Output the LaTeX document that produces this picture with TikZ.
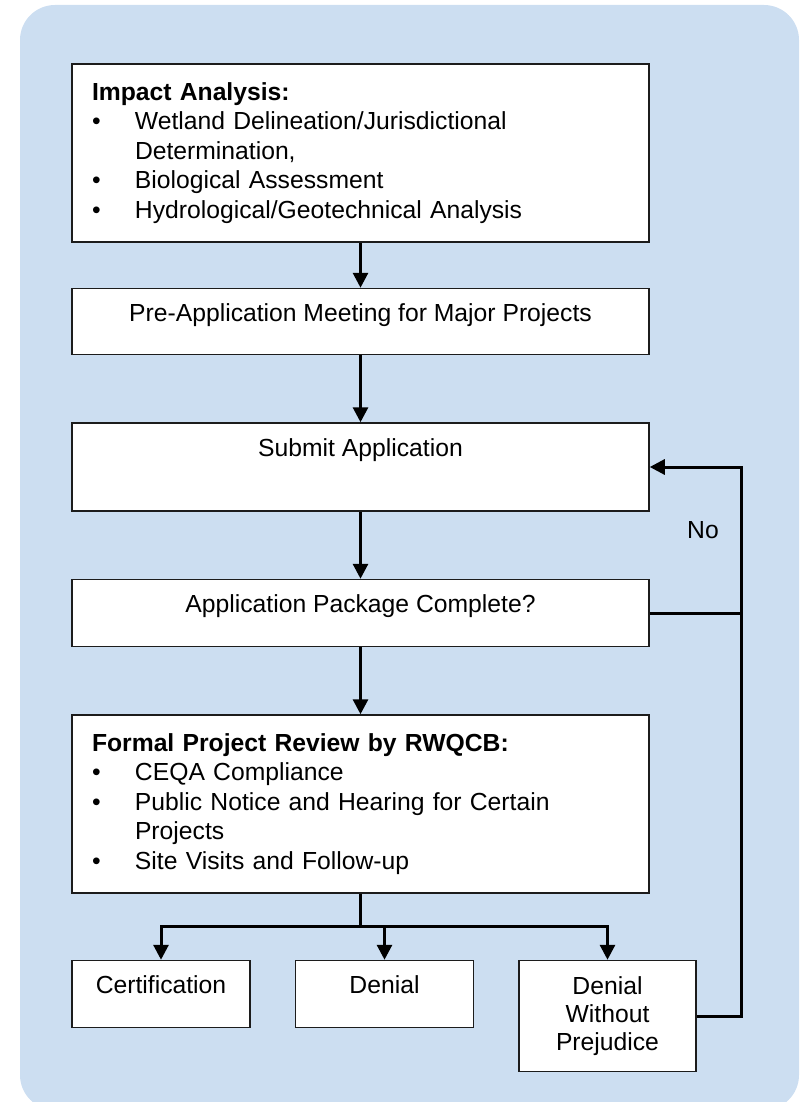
\documentclass[tikz,border=0pt]{standalone}
\usepackage{fontspec}
\setmainfont{Liberation Sans}
\usepackage{tikz}
\usetikzlibrary{
	positioning,
	arrows.meta
}

\definecolor{panelblue}{RGB}{204,222,241}
\definecolor{boxline}{RGB}{28,28,28}

\newcommand{\bul}{\makebox[43pt][l]{\textbullet}}
\newcommand{\cont}{\hspace*{43pt}}

\tikzset{
	box/.style={draw=boxline,line width=1.5pt,fill=white,inner sep=0pt,
		font=\fontsize{24.7}{29.6}\selectfont},
	oneline/.style={text height=33pt,text depth=#1},
	wide/.style={minimum width=577pt},
	narrow/.style={minimum width=178pt},
	listbox/.style={box,wide,text width=537pt,inner xsep=20pt,align=left,
		minimum height=178pt},
	link/.style={line width=3pt},
	arrow/.style={link,-{Triangle[width=15pt,length=15pt]}}
}

\begin{document}
\begin{tikzpicture}[x=1pt,y=-1pt]
	\useasboundingbox (0,0) rectangle (808,1102);
	\fill[panelblue,rounded corners=35pt] (20,5) rectangle (799,1110);

		\draw
			node [listbox] (impact) at (360.5,153)
				{\textbf{Impact Analysis:}\\
				\bul Wetland Delineation/Jurisdictional\\
				\cont Determination,\\
				\bul Biological Assessment\\
				\bul Hydrological/Geotechnical Analysis}
			node [box,wide,oneline=33pt,below=45pt of impact] (premeet)
				{Pre-Application Meeting for Major Projects}
			node [box,wide,oneline=55pt,below=67pt of premeet] (submit)
				{Submit Application}
			node [box,wide,oneline=34pt,below=67pt of submit] (complete)
				{Application Package Complete?}
			node [listbox,below=67pt of complete] (review)
				{\textbf{Formal Project Review by RWQCB:}\\
				\bul CEQA Compliance\\
				\bul Public Notice and Hearing for Certain\\
				\cont Projects\\
				\bul Site Visits and Follow-up}
			node [box,narrow,oneline=34pt,below right=66pt and 0pt of review.south west] (cert)
				{Certification}
			node [box,narrow,oneline=34pt,right=44pt of cert] (denial)
				{Denial}
			node [box,minimum width=177pt,minimum height=111pt,align=center,
				font=\fontsize{24.7}{28}\selectfont,
				right=44pt of denial.north east,anchor=north west] (dwp)
				{Denial\\Without\\Prejudice}

			(impact)   edge [arrow] (premeet)
			(premeet)  edge [arrow] (submit)
			(submit)   edge [arrow] (complete)
			(complete) edge [arrow] (review)
		;

		% outcomes
		\draw[link] (review.south) -- ++(0,33) coordinate (fork);
		\draw[arrow] (fork) -| (cert);
		\draw[arrow] (fork -| denial) -- (denial);
		\draw[arrow] (fork) -| (dwp);

		% back to the application
		\draw[arrow] (dwp.east) -- ++(45,0) coordinate (back) |- (submit);
		\draw[link] (complete) -- (complete -| back);
		\node[font=\fontsize{24.7}{29.6}\selectfont,inner sep=0pt] (no) at (703,530) {No};
\end{tikzpicture}
\end{document}
